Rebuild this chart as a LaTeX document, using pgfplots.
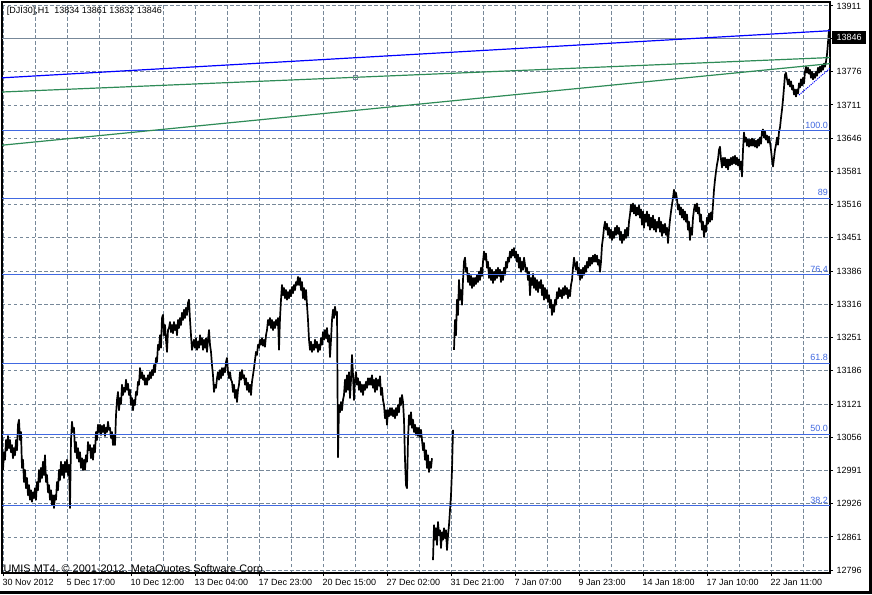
\documentclass[border=0pt]{standalone}
\usepackage{pgfplots}
\pgfplotsset{compat=1.18}
\usepackage{fontspec}
\setmainfont{Liberation Sans}
\definecolor{gridc}{RGB}{119,136,153}
\definecolor{fibo}{RGB}{65,105,225}
\definecolor{tblue}{RGB}{0,0,255}
\definecolor{tgreen}{RGB}{46,139,87}
\newcommand\lbl{\fontsize{9}{10}\selectfont}
\begin{document}
\begin{tikzpicture}[x=1pt,y=1pt]
\useasboundingbox (0,0) rectangle (872,594);
\fill[black] (0,0) rectangle (872,594);
\fill[white] (0,3) rectangle (869,594);
\begin{axis}[
 at={(2pt,21pt)}, anchor=south west, scale only axis, width=828pt, height=571pt,
 xmin=2, xmax=830, ymin=12790.5, ymax=13917.7,
 axis line style={black, line width=1.3pt},
 xtick={3.3,67.3,131.3,195.3,259.3,323.3,387.3,451.3,515.3,579.3,643.3,707.3,771.3},
 minor xtick={35.3,99.3,163.3,227.3,291.3,355.3,419.3,483.3,547.3,611.3,675.3,739.3,803.3},
 ytick={12796,12861.6,12927.2,12992.8,13058.4,13124,13189.6,13255.2,13320.8,13386.4,13452,13517.6,13583.2,13648.8,13714.4,13780,13845.6,13911.2},
 xticklabels={}, yticklabels={},
 xtick pos=left, ytick pos=right, tick align=outside,
 major tick length=3pt, minor tick length=0pt,
 tick style={black, line width=1pt},
 grid=both, grid style={gridc, dash pattern=on 3.5pt off 2.5pt, line width=0.9pt},
 minor grid style={gridc, dash pattern=on 3.5pt off 2.5pt, line width=0.9pt},
 clip mode=individual,
]
% price, segment 1
\addplot[black, line width=1.7pt, line join=round] coordinates {
(3,12994)(4,13029)(5,13014)(6,13053)(7,13033)(8,13061)(9,13037)(10,13053)(11,13029)(12,13043)(13,13017)(14,13037)(15,13023)(16,13053)(17,13033)(18,13083)(19,13093)(20,13053)(21,13069)(22,12998)(23,13014)(24,12970)(25,12994)(26,12958)(27,12978)(28,12944)(29,12964)(30,12935)(31,12954)(32,12931)(33,12950)(34,12938)(35,12958)(36,12935)(37,12970)(38,12954)(39,12994)(40,12970)(41,12998)(42,12978)(43,13010)(44,12984)(45,13023)(46,12970)(47,12984)(48,12950)(49,12964)(50,12935)(51,12954)(52,12925)(53,12944)(54,12919)(55,12944)(56,12935)(57,12970)(58,12954)(59,12994)(60,12974)(61,13010)(62,12984)(63,13004)(64,12978)(65,13010)(66,12990)(67,13014)(68,12984)(69,13004)(70,12919)(71,13053)(72,13089)(73,13069)(74,13077)(75,13029)(76,13049)(77,13017)(78,13037)(79,13010)(80,13029)(81,12998)(82,13017)(83,12994)(84,13014)(85,12994)(86,13023)(87,13010)(88,13049)(89,13033)(90,13043)(91,13017)(92,13037)(93,13014)(94,13043)(95,13029)(96,13069)(97,13053)(98,13083)(99,13069)(100,13083)
(101,13063)(102,13081)(103,13069)(104,13083)(105,13061)(106,13077)(107,13069)(108,13089)(109,13073)(110,13077)(111,13057)(112,13069)(113,13043)(114,13063)(115,13043)(116,13102)(117,13132)(118,13148)(119,13112)(120,13136)(121,13124)(122,13162)(123,13142)(124,13156)(125,13148)(126,13172)(127,13152)(128,13164)(129,13142)(130,13152)(131,13122)(132,13136)(133,13112)(134,13132)(135,13122)(136,13148)(137,13142)(138,13168)(139,13162)(140,13195)(141,13175)(142,13187)(143,13172)(144,13181)(145,13162)(146,13175)(147,13162)(148,13181)(149,13172)(150,13187)(151,13175)(152,13191)(153,13181)(154,13201)(155,13187)(156,13215)(157,13207)(158,13241)(159,13231)(160,13260)(161,13235)(162,13294)(163,13300)(164,13260)(165,13280)(166,13251)(167,13227)(168,13270)(169,13274)(170,13286)(171,13266)(172,13280)(173,13264)(174,13286)(175,13270)(176,13280)(177,13260)(178,13290)(179,13274)(180,13294)(181,13280)(182,13304)(183,13290)(184,13310)(185,13294)(186,13314)(187,13300)(188,13324)(189,13330)(190,13290)(191,13260)(192,13231)(193,13241)(194,13251)(195,13235)(196,13254)(197,13231)(198,13247)(199,13235)(200,13260)
(201,13241)(202,13254)(203,13231)(204,13251)(205,13235)(206,13254)(207,13227)(208,13251)(209,13270)(210,13241)(211,13227)(212,13201)(213,13181)(214,13148)(215,13162)(216,13156)(217,13175)(218,13187)(219,13172)(220,13191)(221,13175)(222,13195)(223,13181)(224,13195)(225,13187)(226,13207)(227,13215)(228,13187)(229,13175)(230,13187)(231,13172)(232,13168)(233,13148)(234,13162)(235,13136)(236,13152)(237,13128)(238,13152)(239,13162)(240,13187)(241,13172)(242,13191)(243,13175)(244,13181)(245,13162)(246,13175)(247,13152)(248,13166)(249,13148)(250,13162)(251,13142)(252,13168)(253,13181)(254,13195)(255,13211)(256,13227)(257,13221)(258,13241)(259,13235)(260,13251)(261,13241)(262,13254)(263,13239)(264,13251)(265,13237)(266,13260)(267,13270)(268,13290)(269,13280)(270,13294)(271,13274)(272,13290)(273,13270)(274,13286)(275,13274)(276,13290)(277,13280)(278,13294)(279,13231)(280,13294)(281,13330)(282,13359)(283,13339)(284,13353)(285,13333)(286,13349)(287,13330)(288,13345)(289,13333)(290,13349)(291,13337)(292,13355)(293,13343)(294,13359)(295,13349)(296,13365)(297,13359)(298,13375)(299,13359)(300,13373)
(301,13349)(302,13365)(303,13333)(304,13353)(305,13330)(306,13349)(307,13320)(308,13290)(309,13251)(310,13231)(311,13247)(312,13227)(313,13241)(314,13231)(315,13251)(316,13235)(317,13247)(318,13227)(319,13241)(320,13231)(321,13254)(322,13241)(323,13266)(324,13251)(325,13270)(326,13254)(327,13274)(328,13247)(329,13260)(330,13217)(331,13251)(332,13290)(333,13310)(334,13294)(335,13316)(336,13300)(337,13306)(338,13019)(339,13122)(340,13108)(341,13128)(342,13112)(343,13132)(344,13142)(345,13172)(346,13148)(347,13181)(348,13152)(349,13187)(350,13136)(351,13172)(352,13221)(353,13181)(354,13132)(355,13172)(356,13187)(357,13162)(358,13175)(359,13152)(360,13168)(361,13148)(362,13162)(363,13142)(364,13162)(365,13152)(366,13168)(367,13156)(368,13175)(369,13162)(370,13175)(371,13162)(372,13181)(373,13156)(374,13172)(375,13148)(376,13175)(377,13152)(378,13172)(379,13160)(380,13179)(381,13142)(382,13156)(383,13132)(384,13122)(385,13096)(386,13112)(387,13083)(388,13112)(389,13100)(390,13116)(391,13102)(392,13116)(393,13100)(394,13112)(395,13096)(396,13116)(397,13102)(398,13122)(399,13108)(400,13136)
(401,13122)(402,13142)(403,13128)(404,13093)(405,13014)(406,12964)(407,12958)(408,13053)(409,13102)(410,13083)(411,13108)(412,13077)(413,13093)(414,13069)(415,13083)(416,13063)(417,13077)(418,13061)(419,13077)(420,13059)(421,13073)(422,13053)(423,13033)(424,13047)(425,13014)(426,13033)(427,12998)(428,13023)(429,12990)(430,13010)(431,12998)(432,13017)
};
% price, segment 2
\addplot[black, line width=1.7pt, line join=round] coordinates {
(433,12816)(434,12885)(435,12856)(436,12879)(437,12846)(438,12891)(439,12865)(440,12875)(441,12840)(442,12871)(443,12856)(444,12879)(445,12859)(446,12875)(447,12836)(448,12865)(449,12885)(450,12915)(451,12944)(452,12994)(453,13073)
};
% price, segment 3
\addplot[black, line width=1.7pt, line join=round] coordinates {
(454,13231)(455,13290)(456,13260)(457,13330)(458,13300)(459,13369)(460,13330)(461,13349)(462,13320)(463,13369)(464,13405)(465,13413)(466,13385)(467,13393)(468,13365)(469,13381)(470,13359)(471,13377)(472,13353)(473,13373)(474,13357)(475,13373)(476,13361)(477,13379)(478,13365)(479,13385)(480,13369)(481,13393)(482,13377)(483,13405)(484,13425)(485,13409)(486,13421)(487,13393)(488,13405)(489,13373)(490,13393)(491,13369)(492,13389)(493,13363)(494,13385)(495,13369)(496,13389)(497,13373)(498,13393)(499,13377)(500,13389)
(501,13365)(502,13385)(503,13369)(504,13393)(505,13379)(506,13405)(507,13393)(508,13413)(509,13405)(510,13425)(511,13413)(512,13429)(513,13417)(514,13432)(515,13413)(516,13425)(517,13405)(518,13419)(519,13393)(520,13413)(521,13385)(522,13405)(523,13389)(524,13413)(525,13399)(526,13385)(527,13393)(528,13369)(529,13385)(530,13339)(531,13373)(532,13359)(533,13381)(534,13353)(535,13373)(536,13349)(537,13369)(538,13345)(539,13365)(540,13353)(541,13369)(542,13339)(543,13359)(544,13330)(545,13353)(546,13333)(547,13349)(548,13326)(549,13339)(550,13314)(551,13330)(552,13300)(553,13320)(554,13306)(555,13330)(556,13320)(557,13345)(558,13333)(559,13353)(560,13337)(561,13349)(562,13333)(563,13353)(564,13339)(565,13357)(566,13341)(567,13353)(568,13333)(569,13349)(570,13337)(571,13359)(572,13369)(573,13393)(574,13413)(575,13399)(576,13389)(577,13405)(578,13379)(579,13393)(580,13369)(581,13389)(582,13373)(583,13393)(584,13379)(585,13397)(586,13385)(587,13405)(588,13393)(589,13413)(590,13397)(591,13413)(592,13401)(593,13417)(594,13405)(595,13419)(596,13405)(597,13417)(598,13399)(599,13409)(600,13385)
(601,13405)(602,13438)(603,13452)(604,13472)(605,13484)(606,13468)(607,13480)(608,13458)(609,13472)(610,13452)(611,13468)(612,13448)(613,13464)(614,13452)(615,13472)(616,13458)(617,13476)(618,13460)(619,13472)(620,13448)(621,13464)(622,13442)(623,13458)(624,13448)(625,13468)(626,13452)(627,13472)(628,13456)(629,13484)(630,13498)(631,13518)(632,13504)(633,13520)(634,13500)(635,13516)(636,13496)(637,13512)(638,13498)(639,13516)(640,13492)(641,13508)(642,13478)(643,13504)(644,13472)(645,13498)(646,13484)(647,13504)(648,13476)(649,13498)(650,13468)(651,13492)(652,13472)(653,13496)(654,13468)(655,13488)(656,13464)(657,13484)(658,13472)(659,13492)(660,13464)(661,13484)(662,13456)(663,13478)(664,13462)(665,13480)(666,13458)(667,13472)(668,13442)(669,13468)(670,13488)(671,13504)(672,13518)(673,13531)(674,13547)(675,13531)(676,13541)(677,13528)(678,13508)(679,13518)(680,13498)(681,13512)(682,13492)(683,13508)(684,13488)(685,13504)(686,13484)(687,13498)(688,13468)(689,13484)(690,13448)(691,13472)(692,13458)(693,13492)(694,13508)(695,13518)(696,13504)(697,13520)(698,13500)(699,13512)(700,13484)
(701,13498)(702,13468)(703,13484)(704,13454)(705,13476)(706,13464)(707,13492)(708,13480)(709,13500)(710,13484)(711,13502)(712,13488)(713,13518)(714,13547)(715,13567)(716,13583)(717,13597)(718,13607)(719,13626)(720,13632)(721,13607)(722,13591)(723,13610)(724,13595)(725,13610)(726,13591)(727,13607)(728,13587)(729,13607)(730,13595)(731,13610)(732,13597)(733,13612)(734,13599)(735,13614)(736,13597)(737,13610)(738,13595)(739,13607)(740,13587)(741,13603)(742,13573)(743,13626)(744,13660)(745,13642)(746,13650)(747,13634)(748,13646)(749,13632)(750,13646)(751,13634)(752,13648)(753,13634)(754,13646)(755,13632)(756,13644)(757,13630)(758,13646)(759,13634)(760,13650)(761,13638)(762,13662)(763,13666)(764,13650)(765,13662)(766,13646)(767,13654)(768,13640)(769,13652)(770,13640)(771,13626)(772,13607)(773,13593)(774,13610)(775,13626)(776,13636)(777,13650)(778,13636)(779,13662)(780,13670)(781,13689)(782,13705)(783,13725)(784,13749)(785,13774)(786,13778)(787,13765)(788,13755)(789,13765)(790,13751)(791,13761)(792,13745)(793,13753)(794,13735)(795,13745)(796,13731)(797,13745)(798,13737)(799,13757)(800,13749)
(801,13765)(802,13753)(803,13768)(804,13757)(805,13780)(806,13790)(807,13778)(808,13788)(809,13776)(810,13784)(811,13768)(812,13780)(813,13765)(814,13776)(815,13768)(816,13780)(817,13772)(818,13788)(819,13778)(820,13790)(821,13780)(822,13792)(823,13784)(824,13796)(825,13790)(826,13800)(827,13814)(828,13838)(829,13863)(830,13847)
};
% Fibonacci levels
\addplot[fibo, line width=1.1pt] coordinates {(2,13664) (830,13664)};
\addplot[fibo, line width=1.1pt] coordinates {(2,13530) (830,13530)};
\addplot[fibo, line width=1.1pt] coordinates {(2,13379) (830,13379)};
\addplot[fibo, line width=1.1pt] coordinates {(2,13204) (830,13204)};
\addplot[fibo, line width=1.1pt] coordinates {(2,13064) (830,13064)};
\addplot[fibo, line width=1.1pt] coordinates {(2,12923) (830,12923)};
% bid line
\addplot[gridc, line width=1pt] coordinates {(2,13846) (830,13846)};
% trend lines
\addplot[tblue, line width=1.2pt] coordinates {(2,13768) (830,13861)};
\addplot[tgreen, line width=1.2pt] coordinates {(2,13740) (830,13808)};
\addplot[tgreen, line width=1.2pt] coordinates {(2,13635) (830,13796)};
\addplot[tblue, line width=0.9pt, dash pattern=on 1.2pt off 1pt] coordinates {(799,13734) (830,13787)};
\addplot[gridc, only marks, mark=square, mark size=1.8pt, mark options={fill=white, line width=0.6pt}] coordinates {(355,13769)};
\end{axis}
% y tick labels
\foreach \k/\t in {0/12796,1/12861,2/12926,3/12991,4/13056,5/13121,6/13186,7/13251,8/13316,9/13386,10/13451,11/13516,12/13581,13/13646,14/13711,15/13776}{
  \node[anchor=west, inner sep=0pt, font=\lbl] at (836.5,{23.8+33.23*\k}) {\t};
}
\node[anchor=west, inner sep=0pt, font=\lbl] at (836.5,587.5) {13911};
% bid box
\fill[black] (832,550) rectangle (866,562.5);
\node[anchor=west, inner sep=0pt, font=\lbl, text=white] at (836.5,556.2) {13846};
% x tick labels
\foreach \x/\t in {2.5/30 Nov 2012,66.5/5 Dec 17:00,130.5/10 Dec 12:00,194.5/13 Dec 04:00,258.5/17 Dec 23:00,322.5/20 Dec 15:00,386.5/27 Dec 02:00,450.5/31 Dec 21:00,514.5/7 Jan 07:00,578.5/9 Jan 23:00,642.5/14 Jan 18:00,706.5/17 Jan 10:00,770.5/22 Jan 11:00}{
  \node[anchor=base west, inner sep=0pt, font=\lbl] at (\x,8.3) {\t};
}
% fibo labels
\node[anchor=base east, inner sep=0pt, font=\lbl, text=fibo] at (828,465.7) {100.0};
\node[anchor=base east, inner sep=0pt, font=\lbl, text=fibo] at (828,398.4) {89};
\node[anchor=base east, inner sep=0pt, font=\lbl, text=fibo] at (828,321.7) {76,4};
\node[anchor=base east, inner sep=0pt, font=\lbl, text=fibo] at (828,233.4) {61.8};
\node[anchor=base east, inner sep=0pt, font=\lbl, text=fibo] at (828,162.4) {50.0};
\node[anchor=base east, inner sep=0pt, font=\lbl, text=fibo] at (828,90.7) {38.2};
% header and footer
\node[anchor=base west, inner sep=0pt, font=\lbl] at (6.7,580.7) {[DJI30],H1\ \ 13834 13861 13832 13846};
\node[anchor=base west, inner sep=0pt, font=\fontsize{10.9}{12}\selectfont] at (3.3,22) {UMIS MT4, © 2001-2012, MetaQuotes Software Corp.};
\end{tikzpicture}
\end{document}
